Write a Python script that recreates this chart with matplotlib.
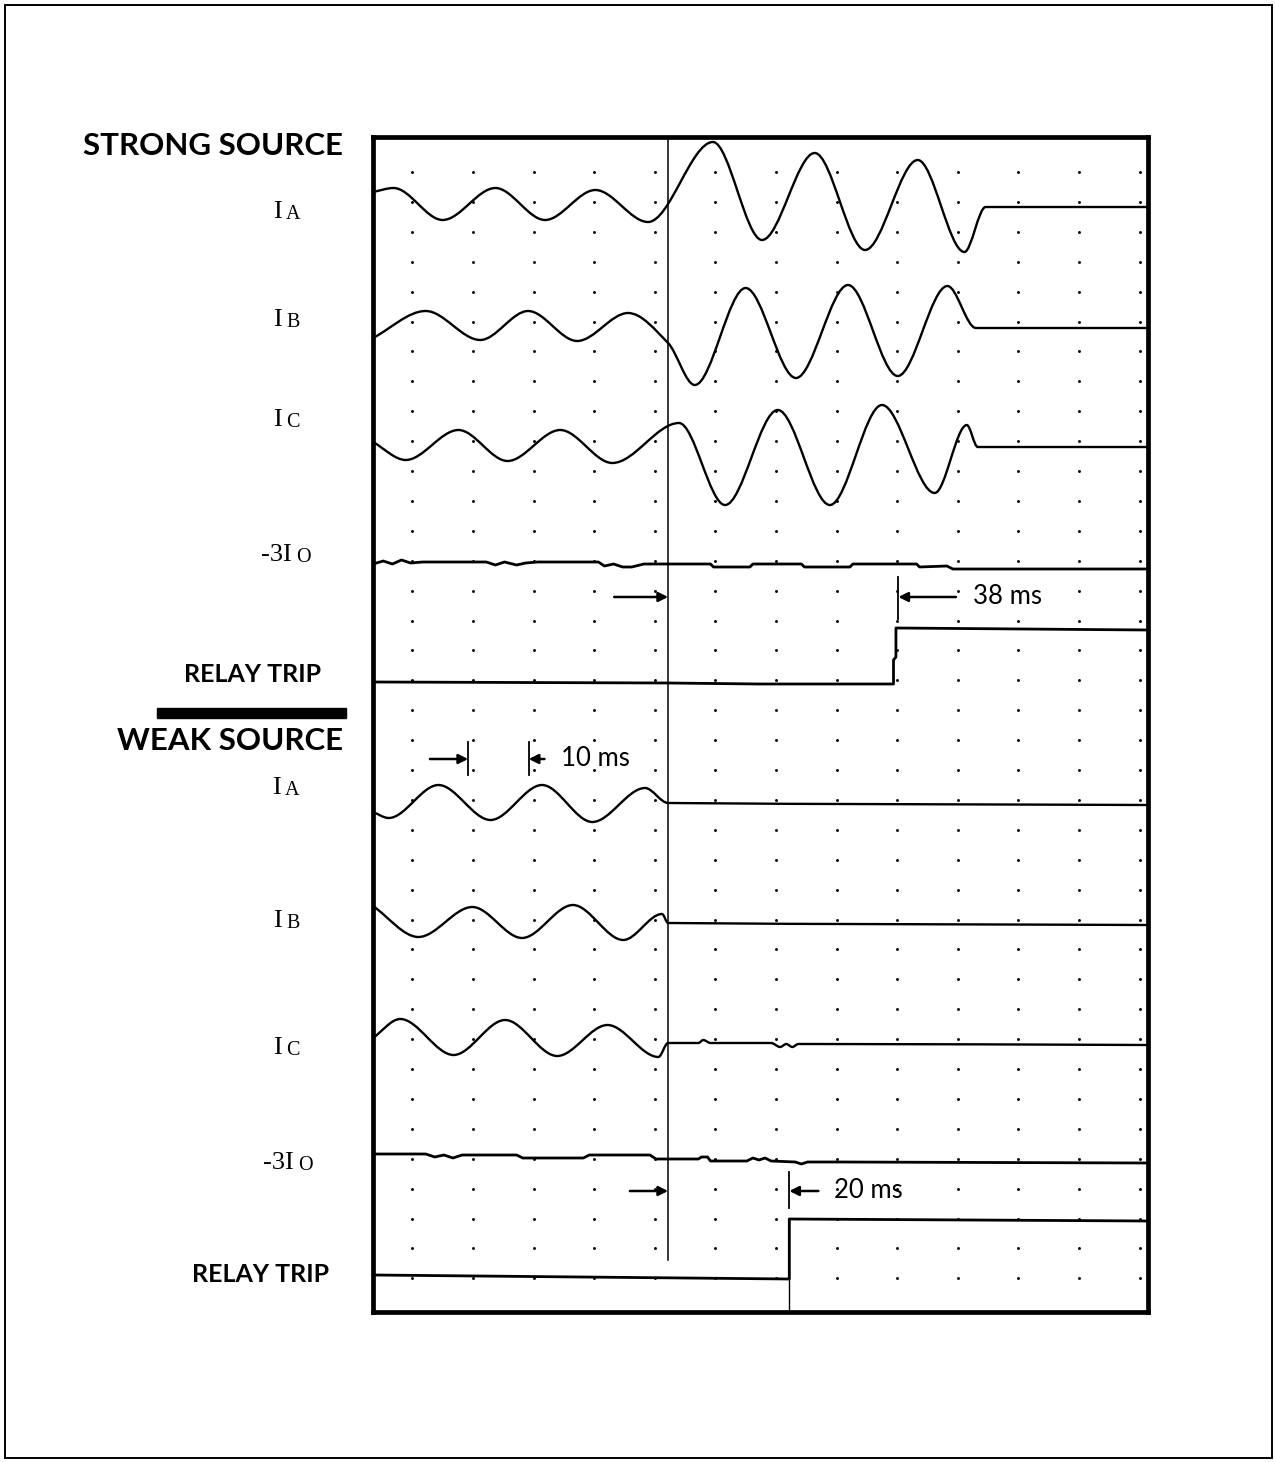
import numpy as np
import matplotlib
matplotlib.use('Agg')
import matplotlib.pyplot as plt
import matplotlib.transforms as mtransforms
from matplotlib.path import Path
from matplotlib.patches import PathPatch, Rectangle

W_PX, H_PX, DPI = 1275, 1462, 100

# time in ms (0 = fault inception), vertical position in sheet pixels (top = 0)
T_MIN, T_MAX = -48.7, 79.2
Y_TOP, Y_BOT = 137, 1312

# dot grid of the recorder chart
grid_t = -42.2 + 10 * np.arange(13)
grid_y = 172 + 29.9 * np.arange(38)

# ---- STRONG SOURCE ----
strong_ia_t = [-48.7, -45.3, -37.2, -28.5, -20.3, -12.0, -3.3, 7.4, 15.5, 24.2, 32.5, 41.2, 48.9, 52.4, 79.2]
strong_ia_y = [192, 188, 220, 188, 220, 190, 222, 142, 240, 153, 250, 160, 252, 207, 207]

strong_ib_t = [-48.7, -40.0, -31.0, -23.1, -15.0, -6.6, 0.0, 4.4, 12.8, 21.1, 29.7, 37.9, 46.1, 50.8, 79.2]
strong_ib_y = [338, 311, 340, 311, 341, 313, 343, 385, 288, 378, 285, 376, 286, 328, 328]

strong_ic_t = [-48.7, -43.3, -34.6, -26.5, -17.8, -9.2, 1.8, 9.4, 18.1, 26.7, 35.3, 44.0, 49.3, 51.1, 79.2]
strong_ic_y = [442, 460, 430, 461, 430, 463, 423, 505, 410, 505, 405, 493, 425, 447, 447]

strong_3i0_t = [-48.7, -47.0, -45.5, -44.0, -42.5, -40.5, -30.0, -28.5, -27.0, -25.0, -23.5, -21.5,
                -11.5, -10.5, -9.0, -7.5, -6.0, -4.0, 0.0, 7.0, 7.5, 13.5, 14.0, 22.0, 22.5, 30.0,
                30.5, 41.0, 41.5, 46.0, 47.0, 48.5, 79.2]
strong_3i0_y = [564, 561, 564, 560, 563, 562, 562, 565, 562, 565, 563, 562,
                562, 566, 564, 567, 567, 564, 564, 564, 567, 567, 564, 564, 567, 567,
                564, 564, 567, 566, 569, 569, 569]

strong_trip_t = [-48.7, 0.0, 15.0, 37.2, 37.2, 37.6, 37.6, 79.2]
strong_trip_y = [682, 683, 684, 684, 660, 657, 628, 630]
strong_trip_ms = 38

# ---- WEAK SOURCE ----
weak_ia_t = [-48.7, -46.1, -37.9, -29.3, -20.8, -12.5, -3.8, 0.0, 79.2]
weak_ia_y = [812, 818, 785, 820, 785, 822, 788, 803, 805]

weak_ib_t = [-48.7, -41.2, -32.3, -24.1, -15.7, -7.4, -1.0, 0.0, 79.2]
weak_ib_y = [906, 937, 907, 938, 905, 940, 914, 923, 925]

weak_ic_t = [-48.7, -44.2, -35.4, -26.9, -18.3, -10.0, -1.6, 0.0, 5.0, 5.8, 7.0, 17.0, 18.5,
             19.5, 20.5, 21.5, 23.0, 79.2]
weak_ic_y = [1038, 1019, 1055, 1020, 1056, 1025, 1057, 1043, 1043, 1040, 1043, 1043, 1047,
             1044, 1047, 1044, 1044, 1045]

weak_3i0_t = [-48.7, -40.0, -38.5, -37.0, -35.5, -34.0, -25.0, -24.0, -14.0, -13.0, -3.0, -2.0,
              5.0, 5.5, 6.5, 7.0, 13.0, 14.0, 15.0, 16.0, 17.0, 21.0, 22.0, 23.0, 28.0, 79.2]
weak_3i0_y = [1154, 1154, 1157, 1155, 1158, 1155, 1155, 1158, 1158, 1155, 1155, 1159,
              1159, 1157, 1157, 1161, 1161, 1158, 1160, 1158, 1161, 1162, 1164, 1162, 1162, 1163]

weak_trip_t = [-48.7, 20.0, 20.0, 79.2]
weak_trip_y = [1275, 1279, 1219, 1221]
weak_trip_ms = 20

cycle_ms = 10   # time scale marker


def smooth_path(t, y):
    """Bezier path through the read-off extrema (flat tangent at peaks)."""
    t = np.asarray(t, float)
    y = np.asarray(y, float)
    d = np.diff(y) / np.diff(t)
    m = np.zeros(len(t))
    m[0], m[-1] = d[0], d[-1]
    for i in range(1, len(t) - 1):
        if d[i - 1] * d[i] > 0:
            m[i] = 2 / (1 / d[i - 1] + 1 / d[i])
    verts = [(t[0], y[0])]
    codes = [Path.MOVETO]
    for i in range(len(t) - 1):
        h = t[i + 1] - t[i]
        verts += [(t[i] + h / 3, y[i] + m[i] * h / 3),
                  (t[i + 1] - h / 3, y[i + 1] - m[i + 1] * h / 3),
                  (t[i + 1], y[i + 1])]
        codes += [Path.CURVE4] * 3
    return Path(verts, codes)


fig = plt.figure(figsize=(W_PX / DPI, H_PX / DPI), dpi=DPI)
ax = fig.add_axes([373 / W_PX, 1 - Y_BOT / H_PX, 775 / W_PX, (Y_BOT - Y_TOP) / H_PX])
ax.set_xlim(T_MIN, T_MAX)
ax.set_ylim(Y_BOT, Y_TOP)
ax.set_xticks([])
ax.set_yticks([])
for s in ax.spines.values():
    s.set_linewidth(3.4)

GX, GY = np.meshgrid(grid_t, grid_y)
ax.plot(GX.ravel(), GY.ravel(), ls='none', marker='o', ms=2.1, mew=0, color='black', zorder=1)

for t, y in [(strong_ia_t, strong_ia_y), (strong_ib_t, strong_ib_y), (strong_ic_t, strong_ic_y),
             (weak_ia_t, weak_ia_y), (weak_ib_t, weak_ib_y), (weak_ic_t, weak_ic_y)]:
    ax.add_patch(PathPatch(smooth_path(t, y), fill=False, lw=1.7, ec='black', zorder=3,
                           joinstyle='round', capstyle='round'))

for t, y in [(strong_3i0_t, strong_3i0_y), (strong_trip_t, strong_trip_y),
             (weak_3i0_t, weak_3i0_y), (weak_trip_t, weak_trip_y)]:
    ax.plot(t, y, color='black', lw=2.0, zorder=3, solid_joinstyle='round')

# fault inception line and trip edge
ax.plot([0, 0], [Y_TOP, 1260], color='black', lw=1.1, zorder=2)
ax.plot([weak_trip_ms, weak_trip_ms], [1219, Y_BOT], color='black', lw=1.0, zorder=2)

arrow = dict(arrowstyle='-|>', color='black', lw=1.8, mutation_scale=14, shrinkA=0, shrinkB=0)
ms_font = dict(family='Lato', fontsize=18.5, va='center', ha='left')

# 38 ms marker
ax.annotate('', xy=(0, 597), xytext=(-8.9, 597), arrowprops=arrow)
ax.plot([strong_trip_ms, strong_trip_ms], [577, 619], color='black', lw=1.3)
ax.annotate('', xy=(strong_trip_ms, 597), xytext=(strong_trip_ms + 9.5, 597), arrowprops=arrow)
ax.text(strong_trip_ms + 12.3, 597, f'{strong_trip_ms} ms', **ms_font)

# 20 ms marker
ax.annotate('', xy=(0, 1191), xytext=(-6.3, 1191), arrowprops=arrow)
ax.plot([weak_trip_ms, weak_trip_ms], [1172, 1208], color='black', lw=1.3)
ax.annotate('', xy=(weak_trip_ms, 1191), xytext=(weak_trip_ms + 4.8, 1191), arrowprops=arrow)
ax.text(weak_trip_ms + 7.3, 1191, f'{weak_trip_ms} ms', **ms_font)

# 10 ms scale
t_a = -33.0
ax.annotate('', xy=(t_a, 759), xytext=(t_a - 6.3, 759), arrowprops=arrow)
ax.plot([t_a, t_a], [742, 775], color='black', lw=1.3)
ax.plot([t_a + cycle_ms, t_a + cycle_ms], [742, 775], color='black', lw=1.3)
ax.annotate('', xy=(t_a + cycle_ms, 759), xytext=(t_a + cycle_ms + 2.6, 759), arrowprops=arrow)
ax.text(t_a + cycle_ms + 5.4, 759, f'{cycle_ms} ms', **ms_font)

# labels on the left: x in figure px, y in sheet px
lbl = mtransforms.blended_transform_factory(fig.transFigure, ax.transData)
head = dict(family='Lato', fontweight='bold', fontsize=22.5, va='center', ha='left', transform=lbl)
small = dict(family='Lato', fontweight='bold', fontsize=18, va='center', ha='left', transform=lbl)
ax.text(83 / W_PX, 146, 'STRONG SOURCE', **head)
ax.text(117 / W_PX, 741, 'WEAK SOURCE', **head)
ax.text(184 / W_PX, 675, 'RELAY TRIP', **small)
ax.text(192 / W_PX, 1274, 'RELAY TRIP', **small)


def phase_label(x_px, y_base, main, sub, gap):
    ax.text(x_px / W_PX, y_base, main, family='Liberation Serif', fontsize=19,
            va='baseline', ha='left', transform=lbl)
    ax.text((x_px + gap) / W_PX, y_base + 1, sub, family='Liberation Serif', fontsize=14.5,
            va='baseline', ha='left', transform=lbl)


phase_label(273, 218, 'I', 'A', 13)
phase_label(273, 326, 'I', 'B', 13)
phase_label(273, 426, 'I', 'C', 13)
phase_label(261, 561, '-3I', 'O', 35)
phase_label(272, 794, 'I', 'A', 13)
phase_label(273, 927, 'I', 'B', 13)
phase_label(273, 1054, 'I', 'C', 13)
phase_label(263, 1169, '-3I', 'O', 35)

# separator bar and sheet border
fig.patches.append(Rectangle((157 / W_PX, 1 - 718 / H_PX), 189 / W_PX, 10 / H_PX,
                             transform=fig.transFigure, color='black'))
fig.patches.append(Rectangle((5 / W_PX, 1 - 1458 / H_PX), 1267 / W_PX, 1453 / H_PX,
                             transform=fig.transFigure, fill=False, lw=1.4, ec='black'))

fig.savefig('out.png', dpi=DPI)
